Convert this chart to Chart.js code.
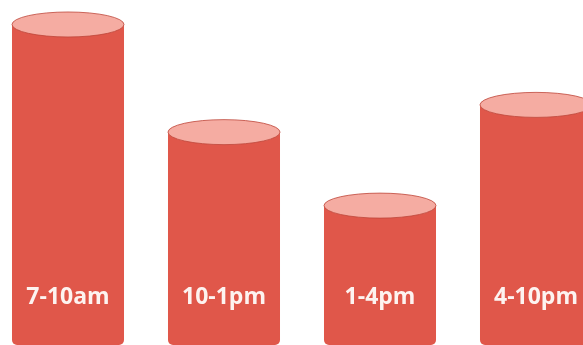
<!DOCTYPE html>
<html>
<head>
<meta charset="utf-8">
<script src="https://cdn.jsdelivr.net/npm/chart.js@4/dist/chart.umd.min.js"></script>
<style>
  html, body { margin: 0; padding: 0; background: #ffffff; overflow: hidden; }
  body { width: 583px; height: 345px; position: relative; }
  #timeChart { position: absolute; left: -10px; top: 0; }
</style>
</head>
<body>
<canvas id="timeChart" width="624" height="345"></canvas>
<script>
const slots = ['7-10am', '10-1pm', '1-4pm', '4-10pm'];
const viewers = [92.9, 61.7, 40.4, 69.6];

const bodyColor = '#e0574a';
const lidColor = '#f5aca2';
const rimColor = 'rgba(190, 70, 58, 0.8)';

// draws the lighter elliptical lid on each bar and the slot name near the base
const cylinderTops = {
    id: 'cylinderTops',
    afterDatasetsDraw(chart) {
        const ctx = chart.ctx;
        const meta = chart.getDatasetMeta(0);
        const area = chart.chartArea;
        ctx.save();
        meta.data.forEach((bar, i) => {
            const half = bar.width / 2;
            ctx.beginPath();
            ctx.ellipse(bar.x, bar.y, half, 12.5, 0, 0, Math.PI * 2);
            ctx.fillStyle = lidColor;
            ctx.fill();
            ctx.lineWidth = 1;
            ctx.strokeStyle = rimColor;
            ctx.stroke();

            ctx.fillStyle = '#fdf3f0';
            ctx.font = 'bold 23px "Open Sans", sans-serif';
            ctx.textAlign = 'center';
            ctx.textBaseline = 'middle';
            ctx.fillText(slots[i], bar.x, area.bottom - 48);
        });
        ctx.restore();
    }
};

const chart = new Chart(document.getElementById('timeChart').getContext('2d'), {
    type: 'bar',
    data: {
        labels: slots,
        datasets: [{
            data: viewers,
            backgroundColor: bodyColor,
            borderWidth: 0,
            borderSkipped: false,
            borderRadius: { topLeft: 0, topRight: 0, bottomLeft: 5, bottomRight: 5 },
            categoryPercentage: 1,
            barPercentage: 0.718
        }]
    },
    options: {
        responsive: false,
        animation: false,
        devicePixelRatio: 1,
        layout: { padding: 0 },
        plugins: {
            legend: { display: false },
            tooltip: { enabled: false }
        },
        scales: {
            x: { display: false },
            y: { display: false, min: 0, max: 100 }
        }
    },
    plugins: [cylinderTops]
});
</script>
</body>
</html>
